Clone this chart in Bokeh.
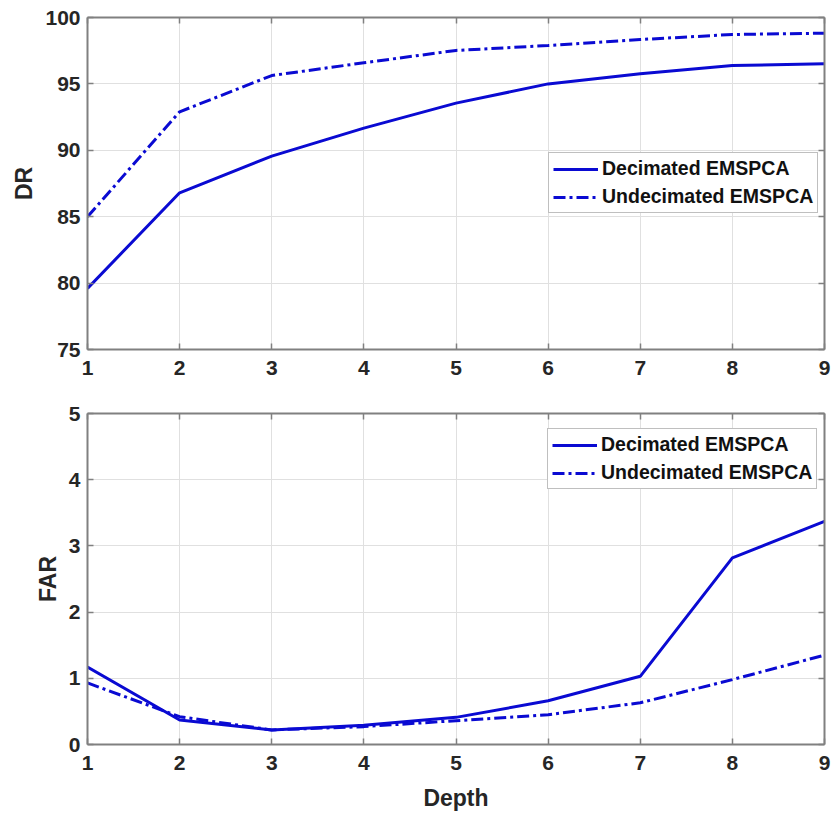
from bokeh.plotting import figure
from bokeh.layouts import column
from bokeh.models import LinearAxis, Legend, LegendItem, FixedTicker, Range1d
from bokeh.embed import file_html
from bokeh.resources import INLINE

depth = [1, 2, 3, 4, 5, 6, 7, 8, 9]
dr_decimated = [79.6, 86.8, 89.56, 91.67, 93.55, 95.0, 95.76, 96.39, 96.51]
dr_undecimated = [85.0, 92.9, 95.63, 96.59, 97.52, 97.89, 98.34, 98.72, 98.82]
far_decimated = [1.17, 0.37, 0.22, 0.29, 0.41, 0.66, 1.03, 2.82, 3.37]
far_undecimated = [0.93, 0.42, 0.22, 0.27, 0.36, 0.45, 0.63, 0.98, 1.35]
series_names = ["Decimated EMSPCA", "Undecimated EMSPCA"]
x_ticks = [1, 2, 3, 4, 5, 6, 7, 8, 9]
dr_ticks = [75, 80, 85, 90, 95, 100]
far_ticks = [0, 1, 2, 3, 4, 5]

FONT = "Liberation Sans"
TXT = "#262626"
FRAME = "#808080"
BLUE = "#0a0ad2"
DASH = "12 4 3 4"


def style_axis(ax, ticks, show_labels=True):
    ax.ticker = FixedTicker(ticks=ticks)
    ax.axis_line_color = FRAME
    ax.axis_line_width = 2
    ax.major_tick_line_color = FRAME
    ax.major_tick_line_width = 1.5
    ax.major_tick_in = 6
    ax.major_tick_out = 0
    ax.minor_tick_line_color = None
    ax.major_label_text_font = FONT
    ax.major_label_text_font_style = "bold"
    ax.major_label_text_font_size = "21px"
    ax.major_label_text_color = TXT if show_labels else None
    ax.axis_label_text_font = FONT
    ax.axis_label_text_font_style = "bold"
    ax.axis_label_text_font_size = "23px"
    ax.axis_label_text_color = TXT


def make_fig(ys, ylabel, yrange, yticks, xlabel, top, bottom, fh, legend_xy):
    p = figure(frame_width=737, frame_height=fh, output_backend="svg",
               toolbar_location=None, x_range=Range1d(1, 9),
               y_range=Range1d(*yrange), x_axis_location=None, y_axis_location=None,
               min_border_left=87, min_border_right=10,
               min_border_top=top, min_border_bottom=bottom)
    p.outline_line_color = None
    p.background_fill_color = "white"
    p.border_fill_color = "white"
    xb = LinearAxis(axis_label=xlabel)
    yl = LinearAxis(axis_label=ylabel)
    xt = LinearAxis()
    yr = LinearAxis()
    style_axis(xb, x_ticks)
    style_axis(yl, yticks)
    style_axis(xt, x_ticks, False)
    style_axis(yr, yticks, False)
    xb.major_label_standoff = 11
    yl.major_label_standoff = 7
    xb.axis_label_standoff = 12
    yl.axis_label_standoff = 5
    p.add_layout(xb, "below")
    p.add_layout(yl, "left")
    p.add_layout(xt, "above")
    p.add_layout(yr, "right")
    xt.major_label_text_font_size = "0px"
    yr.major_label_text_font_size = "0px"
    xt.major_label_standoff = 0
    yr.major_label_standoff = 0
    p.xgrid.ticker = FixedTicker(ticks=x_ticks)
    p.ygrid.ticker = FixedTicker(ticks=yticks)
    for g in (p.xgrid, p.ygrid):
        g.grid_line_color = "#e0e0e0"
        g.grid_line_width = 1
    r1 = p.line(depth, ys[0], line_color=BLUE, line_width=3)
    r2 = p.line(depth, ys[1], line_color=BLUE, line_width=3, line_dash=DASH)
    leg = Legend(items=[LegendItem(label=series_names[0], renderers=[r1]),
                        LegendItem(label=series_names[1], renderers=[r2])],
                 location=legend_xy)
    leg.label_text_font = FONT
    leg.label_text_font_style = "bold"
    leg.label_text_font_size = "19.5px"
    leg.label_text_color = "#111111"
    leg.glyph_width = 45
    leg.glyph_height = 22
    leg.label_height = 22
    leg.label_standoff = 4
    leg.spacing = 5
    leg.padding = 4
    leg.margin = 0
    leg.border_line_color = FRAME
    leg.border_line_width = 1.5
    leg.background_fill_alpha = 1
    p.add_layout(leg, "center")
    return p


p1 = make_fig([dr_decimated, dr_undecimated], "DR", (75, 100), dr_ticks, "",
              17, 44, 332, (461, 136))
p2 = make_fig([far_decimated, far_undecimated], "FAR", (0, 5), far_ticks, "Depth",
              20, 70, 331, (460, 255))

layout = column(p1, p2, spacing=0)
open("out.html", "w").write(file_html(layout, INLINE))
